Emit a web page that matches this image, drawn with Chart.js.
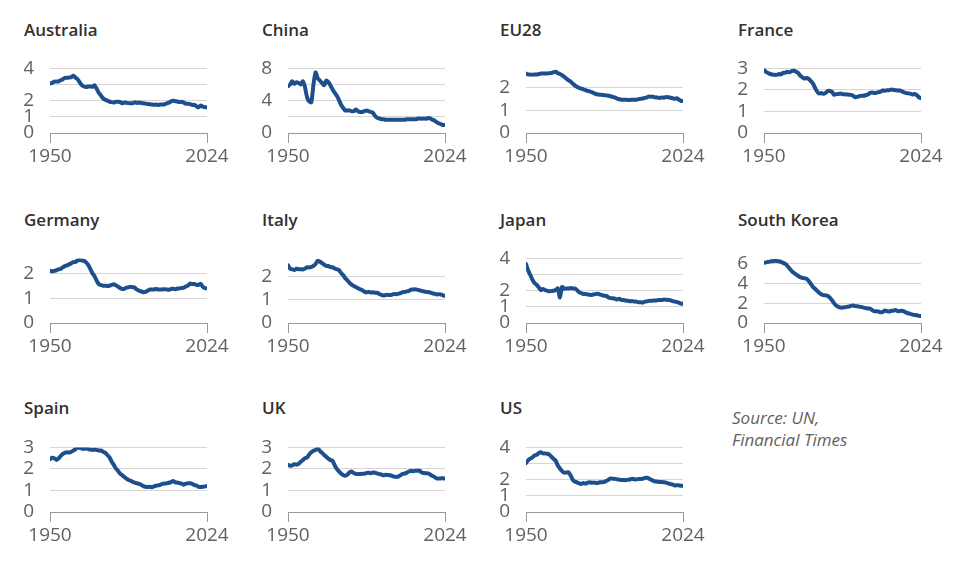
<!DOCTYPE html>
<html>
<head>
<meta charset="utf-8">
<script src="https://cdn.jsdelivr.net/npm/chart.js@4/dist/chart.umd.min.js"></script>
<style>
  body { margin: 0; background: #fff; width: 955px; height: 573px; position: relative; overflow: hidden; font-family: 'Open Sans', sans-serif; }
  .title { position: absolute; font-weight: 600; font-size: 17px; line-height: 23px; color: #33302e; white-space: nowrap; }
  canvas { position: absolute; }
  .source { position: absolute; left: 732px; top: 407px; font-style: italic; font-size: 17px; line-height: 22px; color: #66605c; }
</style>
</head>
<body>
<div class="source">Source: UN,<br>Financial Times</div>
<script>
// fertility rate, births per woman, 1950-2024
var years = [1950,1951,1952,1953,1954,1955,1956,1957,1958,1959,
  1960,1961,1962,1963,1964,1965,1966,1967,1968,1969,
  1970,1971,1972,1973,1974,1975,1976,1977,1978,1979,
  1980,1981,1982,1983,1984,1985,1986,1987,1988,1989,
  1990,1991,1992,1993,1994,1995,1996,1997,1998,1999,
  2000,2001,2002,2003,2004,2005,2006,2007,2008,2009,
  2010,2011,2012,2013,2014,2015,2016,2017,2018,2019,
  2020,2021,2022,2023,2024];

var australia = [3.06,3.10,3.18,3.19,3.19,3.27,3.32,3.41,3.42,3.43,
  3.45,3.55,3.43,3.33,3.14,2.96,2.88,2.85,2.88,2.88,
  2.86,2.95,2.74,2.49,2.32,2.15,2.06,2.01,1.95,1.91,
  1.89,1.94,1.93,1.92,1.84,1.89,1.87,1.85,1.84,1.84,
  1.90,1.86,1.89,1.86,1.84,1.82,1.80,1.78,1.76,1.75,
  1.76,1.74,1.76,1.76,1.78,1.84,1.87,1.96,2.00,1.97,
  1.95,1.92,1.93,1.88,1.81,1.81,1.79,1.74,1.74,1.66,
  1.59,1.70,1.63,1.60,1.60];

var china = [5.8,6.0,6.4,6.1,6.3,6.2,6.0,6.4,5.7,4.4,
  3.9,3.8,6.0,7.5,6.8,6.5,6.2,5.9,6.5,6.3,
  5.9,5.4,5.0,4.6,4.1,3.5,3.1,2.8,2.8,2.8,
  2.7,2.7,2.9,2.7,2.6,2.6,2.7,2.8,2.7,2.6,
  2.5,2.1,1.9,1.8,1.7,1.7,1.65,1.65,1.65,1.65,
  1.65,1.65,1.65,1.65,1.65,1.65,1.7,1.7,1.7,1.7,
  1.7,1.75,1.8,1.75,1.8,1.75,1.85,1.8,1.65,1.55,
  1.35,1.2,1.1,1.0,1.0];

var eu28 = [2.62,2.58,2.58,2.57,2.58,2.58,2.60,2.62,2.62,2.63,
  2.62,2.64,2.65,2.68,2.70,2.64,2.60,2.55,2.48,2.40,
  2.33,2.27,2.18,2.10,2.04,1.99,1.96,1.93,1.89,1.86,
  1.84,1.80,1.76,1.72,1.70,1.69,1.68,1.67,1.66,1.64,
  1.62,1.59,1.56,1.52,1.49,1.47,1.47,1.47,1.46,1.46,
  1.47,1.47,1.47,1.49,1.51,1.52,1.55,1.57,1.61,1.60,
  1.60,1.57,1.57,1.54,1.57,1.56,1.59,1.58,1.56,1.54,
  1.51,1.53,1.48,1.42,1.41];

var france = [2.95,2.83,2.78,2.74,2.71,2.70,2.70,2.74,2.72,2.79,
  2.80,2.84,2.82,2.87,2.90,2.85,2.80,2.67,2.59,2.53,
  2.55,2.52,2.42,2.31,2.11,1.93,1.83,1.86,1.82,1.86,
  1.95,1.95,1.91,1.78,1.80,1.81,1.83,1.80,1.80,1.79,
  1.78,1.77,1.73,1.66,1.68,1.71,1.73,1.73,1.76,1.79,
  1.87,1.88,1.86,1.87,1.90,1.92,1.98,1.96,1.99,1.99,
  2.02,2.00,1.99,1.97,1.98,1.93,1.89,1.85,1.84,1.83,
  1.79,1.81,1.76,1.66,1.62];

var germany = [2.10,2.08,2.10,2.12,2.16,2.18,2.24,2.29,2.32,2.36,
  2.40,2.45,2.46,2.52,2.54,2.52,2.50,2.44,2.34,2.18,
  2.00,1.88,1.70,1.56,1.52,1.50,1.50,1.49,1.50,1.53,
  1.56,1.52,1.47,1.41,1.37,1.38,1.42,1.44,1.46,1.44,
  1.42,1.34,1.30,1.27,1.24,1.25,1.30,1.35,1.35,1.35,
  1.37,1.35,1.35,1.35,1.36,1.35,1.34,1.37,1.38,1.36,
  1.39,1.39,1.41,1.42,1.47,1.50,1.59,1.57,1.57,1.54,
  1.53,1.58,1.46,1.40,1.40];

var italy = [2.50,2.35,2.33,2.30,2.35,2.33,2.33,2.32,2.36,2.42,
  2.41,2.43,2.48,2.56,2.70,2.66,2.60,2.53,2.48,2.47,
  2.42,2.42,2.36,2.33,2.30,2.17,2.08,1.94,1.85,1.74,
  1.66,1.60,1.56,1.51,1.46,1.42,1.36,1.33,1.35,1.32,
  1.33,1.31,1.31,1.26,1.22,1.19,1.21,1.22,1.21,1.23,
  1.26,1.25,1.27,1.29,1.34,1.34,1.37,1.39,1.45,1.45,
  1.46,1.44,1.42,1.39,1.37,1.35,1.34,1.32,1.29,1.27,
  1.24,1.25,1.24,1.20,1.18];

var japan = [3.65,3.26,2.98,2.69,2.48,2.37,2.22,2.04,2.11,2.04,
  2.00,1.96,1.98,2.00,2.05,2.14,1.58,2.23,2.13,2.13,
  2.13,2.16,2.14,2.14,2.05,1.91,1.85,1.80,1.79,1.77,
  1.75,1.74,1.77,1.80,1.81,1.76,1.72,1.69,1.66,1.57,
  1.54,1.53,1.50,1.46,1.50,1.42,1.43,1.39,1.38,1.34,
  1.36,1.33,1.32,1.29,1.29,1.26,1.32,1.34,1.37,1.37,
  1.39,1.39,1.41,1.43,1.42,1.45,1.44,1.43,1.42,1.36,
  1.33,1.30,1.26,1.20,1.20];

var southKorea = [6.05,6.10,6.15,6.20,6.22,6.25,6.25,6.22,6.15,6.05,
  5.95,5.75,5.50,5.25,5.05,4.90,4.75,4.62,4.55,4.50,
  4.45,4.25,3.95,3.65,3.45,3.25,3.05,2.90,2.80,2.78,
  2.75,2.55,2.30,2.00,1.75,1.62,1.55,1.55,1.58,1.62,
  1.65,1.72,1.75,1.70,1.68,1.65,1.60,1.55,1.50,1.45,
  1.45,1.30,1.18,1.18,1.15,1.08,1.12,1.25,1.19,1.15,
  1.23,1.24,1.30,1.19,1.21,1.24,1.17,1.05,0.98,0.92,
  0.84,0.81,0.78,0.72,0.70];

var spain = [2.45,2.52,2.50,2.42,2.48,2.60,2.70,2.75,2.78,2.76,
  2.80,2.85,2.92,3.00,2.98,2.95,2.93,2.96,2.92,2.90,
  2.88,2.90,2.88,2.85,2.86,2.80,2.76,2.65,2.55,2.35,
  2.20,2.03,1.92,1.78,1.71,1.63,1.55,1.49,1.45,1.40,
  1.36,1.33,1.31,1.26,1.20,1.17,1.16,1.17,1.15,1.19,
  1.22,1.24,1.26,1.31,1.32,1.33,1.36,1.38,1.44,1.38,
  1.37,1.34,1.32,1.27,1.32,1.33,1.34,1.31,1.25,1.23,
  1.17,1.16,1.17,1.19,1.20];

var uk = [2.19,2.15,2.17,2.22,2.20,2.24,2.33,2.41,2.50,2.53,
  2.67,2.77,2.84,2.88,2.95,2.84,2.75,2.65,2.57,2.48,
  2.41,2.38,2.17,2.00,1.89,1.79,1.72,1.68,1.74,1.84,
  1.88,1.81,1.77,1.77,1.76,1.78,1.78,1.81,1.82,1.80,
  1.83,1.82,1.79,1.76,1.74,1.71,1.73,1.72,1.71,1.68,
  1.64,1.63,1.64,1.71,1.77,1.78,1.83,1.88,1.91,1.89,
  1.92,1.91,1.92,1.83,1.81,1.80,1.79,1.74,1.68,1.63,
  1.56,1.55,1.56,1.57,1.55];

var us = [3.03,3.20,3.30,3.38,3.50,3.54,3.65,3.70,3.63,3.63,
  3.61,3.56,3.42,3.29,3.17,2.88,2.69,2.53,2.44,2.44,
  2.46,2.27,2.01,1.88,1.84,1.77,1.74,1.79,1.76,1.81,
  1.84,1.81,1.83,1.80,1.81,1.84,1.84,1.87,1.93,2.01,
  2.08,2.06,2.05,2.02,2.00,1.98,1.98,1.97,2.00,2.01,
  2.06,2.03,2.02,2.05,2.05,2.06,2.11,2.12,2.07,2.00,
  1.93,1.89,1.88,1.86,1.86,1.84,1.82,1.77,1.73,1.71,
  1.64,1.66,1.66,1.62,1.62];

var xTicks = [1950, 2024];

// gridline values and which of them carry a label
var ticksOneToFour = [0, 1, 2, 3, 4];
var labelsOneToFour = [0, 1, 2, 4];
var ticksChina = [0, 2, 4, 6, 8];
var labelsChina = [0, 4, 8];
var ticksTwo = [0, 1, 2];
var labelsTwo = [0, 1, 2];
var ticksThree = [0, 1, 2, 3];
var labelsThree = [0, 1, 2, 3];
var ticksKorea = [0, 2, 4, 6];
var labelsKorea = [0, 2, 4, 6];

var panels = [
  { name: 'Australia', data: australia, max: 4, ticks: ticksOneToFour, labels: labelsOneToFour },
  { name: 'China', data: china, max: 8, ticks: ticksChina, labels: labelsChina },
  { name: 'EU28', data: eu28, max: 2.85, ticks: ticksTwo, labels: labelsTwo },
  { name: 'France', data: france, max: 3, ticks: ticksThree, labels: labelsThree },
  { name: 'Germany', data: germany, max: 2.6, ticks: ticksTwo, labels: labelsTwo },
  { name: 'Italy', data: italy, max: 2.8, ticks: ticksTwo, labels: labelsTwo },
  { name: 'Japan', data: japan, max: 4, ticks: ticksOneToFour, labels: labelsOneToFour },
  { name: 'South Korea', data: southKorea, max: 6.5, ticks: ticksKorea, labels: labelsKorea },
  { name: 'Spain', data: spain, max: 3, ticks: ticksThree, labels: labelsThree },
  { name: 'UK', data: uk, max: 3, ticks: ticksThree, labels: labelsThree },
  { name: 'US', data: us, max: 4, ticks: ticksOneToFour, labels: labelsOneToFour }
];

var plotLefts = [50, 288, 526, 764];
var plotTops = [55, 245, 434];
var titleTops = [17.5, 207.5, 396];

panels.forEach(function (p, i) {
  var col = i % 4, row = Math.floor(i / 4);

  var t = document.createElement('div');
  t.className = 'title';
  t.textContent = p.name;
  t.style.left = (plotLefts[col] - 26) + 'px';
  t.style.top = titleTops[row] + 'px';
  document.body.appendChild(t);

  var c = document.createElement('canvas');
  c.width = 211;
  c.height = 132;
  c.style.left = (plotLefts[col] - 26) + 'px';
  c.style.top = (plotTops[row] - 14) + 'px';
  document.body.appendChild(c);

  new Chart(c.getContext('2d'), {
    type: 'line',
    data: {
      datasets: [{
        data: years.map(function (yr, k) { return { x: yr, y: p.data[k] }; }),
        borderColor: '#1d4f8c',
        borderWidth: 4,
        pointRadius: 0,
        tension: 0.2,
        borderJoinStyle: 'round',
        borderCapStyle: 'round'
      }]
    },
    options: {
      responsive: false,
      animation: false,
      layout: { padding: { left: 0, right: 28, top: 14, bottom: 4 } },
      plugins: { legend: { display: false }, tooltip: { enabled: false } },
      scales: {
        x: {
          type: 'linear',
          min: 1950,
          max: 2024,
          afterBuildTicks: function (s) { s.ticks = xTicks.map(function (v) { return { value: v }; }); },
          afterFit: function (s) { s.height = 36; },
          grid: { drawOnChartArea: false, color: '#9a9a9a', tickLength: 10 },
          border: { color: '#9a9a9a' },
          ticks: {
            autoSkip: false, maxRotation: 0, padding: 2, color: '#66605c',
            font: { family: 'Open Sans', size: 19 },
            callback: function (v) { return String(v); }
          }
        },
        y: {
          min: 0,
          max: p.max,
          afterBuildTicks: function (s) { s.ticks = p.ticks.map(function (v) { return { value: v }; }); },
          afterFit: function (s) { s.width = 26; },
          grid: {
            drawTicks: false,
            color: function (ctx) { return ctx.tick && ctx.tick.value === 0 ? 'rgba(0,0,0,0)' : '#d6d6d6'; }
          },
          border: { display: false },
          ticks: {
            autoSkip: false, padding: 16, color: '#66605c',
            font: { family: 'Open Sans', size: 19 },
            callback: function (v) { return p.labels.indexOf(v) >= 0 ? String(v) : ''; }
          }
        }
      }
    }
  });
});
</script>
</body>
</html>
